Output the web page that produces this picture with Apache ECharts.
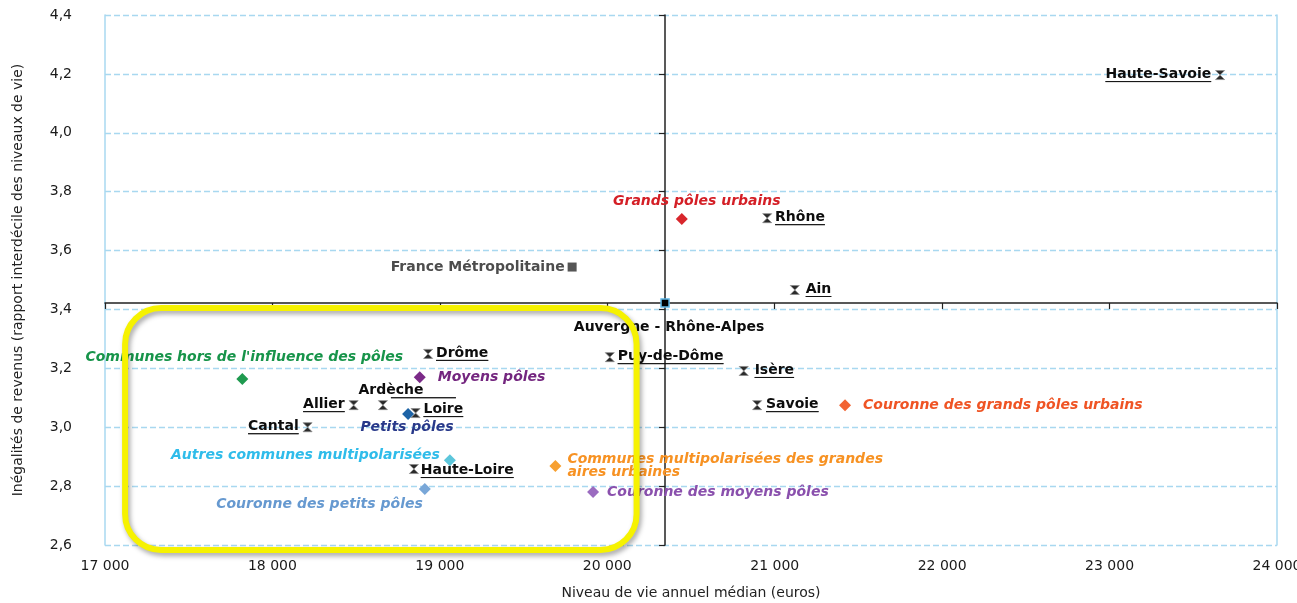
<!DOCTYPE html>
<html>
<head>
<meta charset="utf-8">
<script src="https://cdn.jsdelivr.net/npm/echarts@6/dist/echarts.min.js"></script>
<style>
html,body{margin:0;padding:0;background:#fff;}
#main{width:1297px;height:603px;}
</style>
</head>
<body>
<div id="main"></div>
<script>
// ---------- DATA ----------
const xTicks = [17000, 18000, 19000, 20000, 21000, 22000, 23000, 24000];
const yTicks = [2.6, 2.8, 3.0, 3.2, 3.4, 3.6, 3.8, 4.0, 4.2, 4.4];

const departementNames = ['Haute-Savoie', 'Rhône', 'Ain', 'Puy-de-Dôme', 'Isère', 'Savoie', 'Drôme', 'Ardèche', 'Allier', 'Loire', 'Cantal', 'Haute-Loire'];
const departementX = [23660, 20955, 21120, 20015, 20815, 20895, 18930, 18660, 18485, 18855, 18210, 18845];
const departementY = [4.196, 3.71, 3.466, 3.238, 3.191, 3.075, 3.249, 3.075, 3.075, 3.048, 3.0, 2.858];

const typologieNames = ['Grands pôles urbains', 'Couronne des grands pôles urbains', 'Moyens pôles', 'Couronne des moyens pôles', 'Petits pôles', 'Couronne des petits pôles', 'Communes multipolarisées des grandes\naires urbaines', 'Autres communes multipolarisées', "Communes hors de l'influence des pôles"];
const typologieX = [20445, 21420, 18880, 19915, 18810, 18910, 19690, 19060, 17820];
const typologieY = [3.707, 3.075, 3.170, 2.780, 3.045, 2.790, 2.868, 2.888, 3.164];

const franceName = 'France Métropolitaine';
const franceX = 19790, franceY = 3.544;
const regionName = 'Auvergne - Rhône-Alpes';
const regionX = 20345, regionY = 3.422;

// highlighted zone (x min, x max, y top, y bottom)
const highlightZone = [17120, 20175, 3.405, 2.583];

// ---------- STYLE ----------
const FONT = 'DejaVu Sans';
const xMin = 17000, xMax = 24000, yMin = 2.6, yMax = 4.4;
const gridL = 105, gridR = 20, gridT = 15, gridB = 58;
const gridW = 1297 - gridL - gridR, gridH = 603 - gridT - gridB;

const depLabel = {
  'Haute-Savoie': {position: 'left', distance: 4},
  'Rhône': {position: 'right', distance: 3},
  'Ain': {position: 'right', distance: 6},
  'Puy-de-Dôme': {position: 'right', distance: 3},
  'Isère': {position: 'right', distance: 6},
  'Savoie': {position: 'right', distance: 4},
  'Drôme': {position: 'right', distance: 3},
  'Ardèche': {position: 'top', distance: 2, offset: [8, 0]},
  'Allier': {position: 'left', distance: 4},
  'Loire': {position: 'right', distance: 3, offset: [0, -3]},
  'Cantal': {position: 'left', distance: 4},
  'Haute-Loire': {position: 'right', distance: 2, offset: [0, 2]}
};
const typoStyle = [
  {color: '#d8262c', label: '#d41f26', position: 'top', distance: 5, offset: [15, 0]},
  {color: '#f26433', label: '#ef5424', position: 'right', distance: 12},
  {color: '#7b2a88', label: '#74267f', position: 'right', distance: 12},
  {color: '#9b6cc0', label: '#8a50ad', position: 'right', distance: 8},
  {color: '#1d63a6', label: '#28398a', position: 'bottom', distance: 1, offset: [-1, 0]},
  {color: '#79a7d8', label: '#6699d0', position: 'left', distance: -4, offset: [0, 15]},
  {color: '#f7a031', label: '#f79223', position: 'right', distance: 6},
  {color: '#5cc6db', label: '#2fbcea', position: 'left', distance: 4, offset: [0, -5]},
  {color: '#1f9a4f', label: '#17944a', position: 'top', distance: 9, offset: [2, 0]}
];

const fmtThousands = v => String(v).replace(/\B(?=(\d{3})+(?!\d))/g, ' ');

const depData = departementNames.map((n, i) => {
  const s = depLabel[n];
  return {
    name: n,
    value: [departementX[i], departementY[i]],
    label: Object.assign({show: true, formatter: '{t|' + n + '}\n{u|}'}, s)
  };
});

const typoData = typologieNames.map((n, i) => {
  const s = typoStyle[i];
  return {
    name: n,
    value: [typologieX[i], typologieY[i]],
    itemStyle: {color: s.color, opacity: 1},
    label: {
      show: true, formatter: n, position: s.position, distance: s.distance,
      offset: s.offset || [0, 0], color: s.label, opacity: 1,
      fontFamily: FONT, fontWeight: 'bold', fontStyle: 'italic', fontSize: 14, lineHeight: 13
    }
  };
});

const chart = echarts.init(document.getElementById('main'), null, {renderer: 'canvas'});

const option = {
  animation: false,
  backgroundColor: '#fff',
  grid: {left: gridL, right: gridR, top: gridT, bottom: gridB, outerBoundsMode: 'none'},
  xAxis: [
    {
      type: 'value', min: xMin, max: xMax, interval: 1000,
      name: 'Niveau de vie annuel médian (euros)', nameLocation: 'middle', nameGap: 41,
      nameTextStyle: {fontFamily: FONT, fontSize: 14, color: '#222'},
      axisLine: {show: false}, axisTick: {show: false}, splitLine: {show: false},
      axisLabel: {fontFamily: FONT, fontSize: 14, color: '#1a1a1a', margin: 14,
        formatter: v => xTicks.indexOf(v) >= 0 ? fmtThousands(v) : ''}
    },
    {
      // crossing horizontal axis (at regional value)
      type: 'value', min: xMin, max: xMax, interval: 1000, position: 'bottom',
      offset: -((regionY - yMin) / (yMax - yMin) * gridH),
      axisLine: {show: true, lineStyle: {color: '#222', width: 1.5}},
      axisTick: {show: true, length: 6, lineStyle: {color: '#222', width: 1.2}},
      axisLabel: {show: false}, splitLine: {show: false}
    }
  ],
  yAxis: [
    {
      type: 'value', min: yMin, max: yMax, interval: 0.2,
      name: 'Inégalités de revenus (rapport interdécile des niveaux de vie)',
      nameLocation: 'middle', nameGap: 80,
      nameTextStyle: {fontFamily: FONT, fontSize: 14, color: '#222'},
      axisLine: {show: true, lineStyle: {color: '#a8d8f0', width: 1.5}},
      axisTick: {show: false},
      axisLabel: {fontFamily: FONT, fontSize: 14, color: '#1a1a1a', margin: 33,
        formatter: v => v.toFixed(1).replace('.', ',')},
      splitLine: {show: true, lineStyle: {color: '#a8d8f0', width: 1.3, type: [6, 3]}}
    },
    {
      // crossing vertical axis (at regional value)
      type: 'value', min: yMin, max: yMax, interval: 0.2, position: 'left',
      offset: -((regionX - xMin) / (xMax - xMin) * gridW),
      axisLine: {show: true, lineStyle: {color: '#222', width: 1.5}},
      axisTick: {show: true, length: 6, lineStyle: {color: '#222', width: 1.2}},
      axisLabel: {show: false}, splitLine: {show: false}
    },
    {
      // right border of the plot
      type: 'value', min: yMin, max: yMax, position: 'right',
      axisLine: {show: true, lineStyle: {color: '#a8d8f0', width: 1.5}},
      axisTick: {show: false}, axisLabel: {show: false}, splitLine: {show: false}
    }
  ],
  series: [
    {
      name: 'Départements', type: 'scatter', xAxisIndex: 0, yAxisIndex: 0,
      symbol: 'path://M0,0L10,0L0,10L10,10Z', symbolSize: 9,
      itemStyle: {color: '#2a2a2a', borderColor: '#8a8a8a', borderWidth: 0.8, opacity: 1},
      data: depData, z: 5,
      label: {
        show: true,
        rich: {
          t: {fontFamily: FONT, fontWeight: 'bold', fontSize: 14, color: '#0d0d0d', lineHeight: 13},
          u: {width: '100%', height: 0, borderColor: '#111', borderWidth: 0.9, lineHeight: 1}
        }
      }
    },
    {
      name: 'Typologie', type: 'scatter', xAxisIndex: 0, yAxisIndex: 0,
      symbol: 'diamond', symbolSize: 12, data: typoData, z: 6,
      itemStyle: {opacity: 1}
    },
    {
      name: franceName, type: 'scatter', xAxisIndex: 0, yAxisIndex: 0,
      symbol: 'rect', symbolSize: 9, itemStyle: {color: '#555', opacity: 1},
      data: [{name: franceName, value: [franceX, franceY]}],
      label: {show: true, position: 'left', distance: 3, formatter: franceName,
        fontFamily: FONT, fontWeight: 'bold', fontSize: 14, color: '#4d4d4d'}
    },
    {
      name: regionName, type: 'scatter', xAxisIndex: 0, yAxisIndex: 0,
      symbol: 'rect', symbolSize: 8, z: 10,
      itemStyle: {color: '#000', borderColor: '#5cb6e6', borderWidth: 1.5, opacity: 1},
      data: [{name: regionName, value: [regionX, regionY]}],
      label: {show: true, position: 'bottom', distance: 13, offset: [4, 0], formatter: regionName,
        fontFamily: FONT, fontWeight: 'bold', fontSize: 14, color: '#0d0d0d'}
    }
  ]
};

chart.setOption(option);

// highlighted zone drawn from data coordinates
const p1 = chart.convertToPixel({gridIndex: 0}, [highlightZone[0], highlightZone[2]]);
const p2 = chart.convertToPixel({gridIndex: 0}, [highlightZone[1], highlightZone[3]]);
chart.setOption({
  graphic: [{
    type: 'rect', z: 100, silent: true,
    shape: {x: p1[0], y: p1[1], width: p2[0] - p1[0], height: p2[1] - p1[1], r: 36},
    style: {fill: 'none', stroke: '#f6f200', lineWidth: 6,
      shadowBlur: 5, shadowColor: 'rgba(0,0,0,0.35)', shadowOffsetX: 2, shadowOffsetY: 3}
  }]
});
</script>
</body>
</html>
